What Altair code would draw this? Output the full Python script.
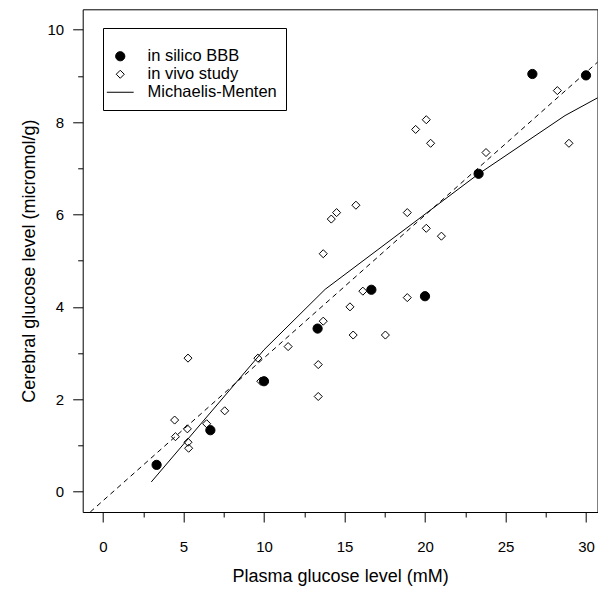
import altair as alt
import pandas as pd

# in silico BBB (filled circles)
silico_x = [3.33, 6.67, 10.0, 13.33, 16.67, 20.0, 23.33, 26.67, 30.0]
silico_y = [0.58, 1.33, 2.39, 3.53, 4.37, 4.23, 6.88, 9.04, 9.01]

# in vivo study (open diamonds)
vivo_x = [4.45, 4.5, 5.28, 5.24, 5.28, 5.32, 6.44, 7.56, 9.62, 9.8, 11.5, 13.68,
          13.37, 13.37, 13.68, 14.18, 14.51, 15.71, 15.34, 15.54, 16.14, 17.54,
          18.9, 18.9, 19.42, 20.08, 20.35, 20.08, 21.02, 23.79, 28.22, 28.94]
vivo_y = [1.55, 1.19, 2.89, 1.36, 1.07, 0.94, 1.47, 1.75, 2.89, 2.39, 3.14, 3.69,
          2.75, 2.06, 5.15, 5.9, 6.04, 6.2, 4.0, 3.39, 4.34, 3.39,
          4.2, 6.04, 7.84, 8.05, 7.54, 5.7, 5.53, 7.34, 8.68, 7.54]

# Michaelis-Menten model curve (solid)
mm_x = [3.0, 10.0, 13.8, 23.3, 28.7, 31.12]
mm_y = [0.21, 3.07, 4.38, 6.87, 8.14, 8.60]

# linear fit (dashed)
fit_x = [-0.79, 31.12]
fit_y = [-0.44, 9.42]

series = ["in silico BBB", "in vivo study", "Michaelis-Menten"]

pts = pd.DataFrame({
    "x": silico_x + vivo_x,
    "y": silico_y + vivo_y,
    "series": [series[0]] * len(silico_x) + [series[1]] * len(vivo_x),
})
mm = pd.DataFrame({"x": mm_x, "y": mm_y})
fit = pd.DataFrame({"x": fit_x, "y": fit_y})

FONT = "Liberation Sans"
XD = [-1.26, 30.715]
YD = [-0.44, 10.44]

xaxis = alt.Axis(
    title="Plasma glucose level (mM)",
    values=[v * 2.5 for v in range(0, 13)],
    labelExpr="datum.value % 5 === 0 ? datum.label : ''",
    tickSize={"condition": {"test": "datum.value % 5 === 0", "value": 10}, "value": 5},
    labelPadding=17,
    titlePadding=13,
)
yaxis = alt.Axis(
    title="Cerebral glucose level (micromol/g)",
    values=list(range(0, 11)),
    labelExpr="datum.value % 2 === 0 ? datum.label : ''",
    tickSize={"condition": {"test": "datum.value % 2 === 0", "value": 10}, "value": 5},
    labelPadding=9,
    titlePadding=9,
)

xs = alt.Scale(domain=XD, nice=False, zero=False)
ys = alt.Scale(domain=YD, nice=False, zero=False)

fit_layer = alt.Chart(fit).mark_line(color="black", strokeWidth=1, strokeDash=[5, 4], clip=True).encode(
    x=alt.X("x:Q", scale=xs, axis=xaxis),
    y=alt.Y("y:Q", scale=ys, axis=yaxis),
)
mm_layer = alt.Chart(mm).mark_line(color="black", strokeWidth=1, clip=True).encode(
    x=alt.X("x:Q", scale=xs),
    y=alt.Y("y:Q", scale=ys),
)

legend = alt.Legend(
    title=" ",
    titleFontSize=4,
    titlePadding=7,
    orient="none",
    legendX=20.3,
    legendY=18.7,
    padding=9,
    strokeColor="black",
    fillColor="white",
    cornerRadius=0,
    labelFont=FONT,
    labelFontSize=16.5,
    labelColor="black",
    labelOffset=19,
    rowPadding=1,
    symbolStrokeWidth=1,
    symbolOpacity=1,
)

pt_layer = alt.Chart(pts).mark_point(strokeWidth=1, opacity=1).encode(
    x=alt.X("x:Q", scale=xs),
    y=alt.Y("y:Q", scale=ys),
    shape=alt.Shape("series:N", scale=alt.Scale(domain=series, range=["circle", "diamond", "M-4,0H4"]), legend=legend),
    fill=alt.Fill("series:N", scale=alt.Scale(domain=series, range=["black", "transparent", "transparent"]), legend=legend),
    stroke=alt.Stroke("series:N", scale=alt.Scale(domain=series, range=["black", "black", "black"]), legend=legend),
    size=alt.Size("series:N", scale=alt.Scale(domain=series, range=[85, 45, 182]), legend=legend),
)

chart = alt.layer(fit_layer, mm_layer, pt_layer).properties(
    width=514.8,
    height=502.7,
    padding={"left": 74.7, "top": 1.3, "right": 0, "bottom": 77},
    autosize=alt.AutoSizeParams(type="none"),
).configure_view(
    stroke="black", strokeWidth=1
).configure_axis(
    domain=False,
    grid=False,
    tickColor="black",
    tickWidth=1,
    labelFont=FONT,
    labelFontSize=15,
    labelColor="black",
    titleFont=FONT,
    titleFontSize=18,
    titleFontWeight="normal",
    titleColor="black",
)

chart.save("out.html", embed_options={"renderer": "svg", "actions": False})
